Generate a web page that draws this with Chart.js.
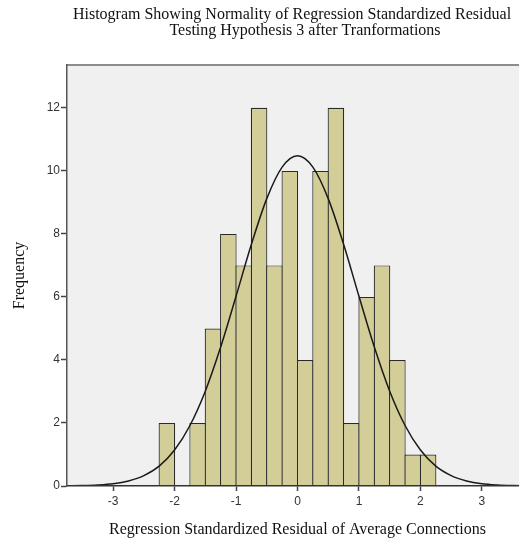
<!DOCTYPE html>
<html>
<head>
<meta charset="utf-8">
<script src="https://cdn.jsdelivr.net/npm/chart.js@4/dist/chart.umd.min.js"></script>
<style>
html,body{margin:0;padding:0;background:#fff;overflow:hidden;}
#wrap{position:absolute;left:0;top:0;width:528px;height:543px;}
</style>
</head>
<body>
<div id="wrap"><canvas id="c" width="528" height="543"></canvas></div>
<script>
// ---- data ----
const titleLines = ['Histogram Showing Normality of Regression Standardized Residual', 'Testing Hypothesis 3 after Tranformations'];
const xTitle = 'Regression Standardized Residual of Average Connections';
const yTitle = 'Frequency';
const binStarts = [-2.25, -2.0, -1.75, -1.5, -1.25, -1.0, -0.75, -0.5, -0.25, 0, 0.25, 0.5, 0.75, 1.0, 1.25, 1.5, 1.75, 2.0];
const binWidth = 0.25;
const counts = [2, 0, 2, 5, 8, 7, 12, 7, 10, 4, 10, 12, 2, 6, 7, 4, 1, 1];
const curveX = [-3.75, -3.5, -3.25, -3, -2.75, -2.5, -2.25, -2, -1.75, -1.5, -1.25, -1, -0.75, -0.5, -0.25, 0,
                0.25, 0.5, 0.75, 1, 1.25, 1.5, 1.75, 2, 2.25, 2.5, 2.75, 3, 3.25, 3.5, 3.75];
const curveY = [0.004, 0.012, 0.03, 0.07, 0.16, 0.33, 0.63, 1.14, 1.92, 3.01, 4.41, 6.02, 7.67, 9.12, 10.12, 10.48,
                10.12, 9.12, 7.67, 6.02, 4.41, 3.01, 1.92, 1.14, 0.63, 0.33, 0.16, 0.07, 0.03, 0.012, 0.004];
const xTicks = [-3, -2, -1, 0, 1, 2, 3];
const yTicks = [0, 2, 4, 6, 8, 10, 12];

const barData = binStarts.map((s, i) => ({x: s + binWidth / 2, y: counts[i]}));
const lineData = curveX.map((x, i) => ({x: x, y: curveY[i]}));

const decor = {
  id: 'decor',
  beforeDraw(chart) {
    const {ctx, chartArea: a} = chart;
    ctx.save();
    ctx.fillStyle = '#f0f0f0';
    ctx.fillRect(a.left, a.top, a.right - a.left, a.bottom - a.top);
    ctx.strokeStyle = '#8c8c8c';
    ctx.lineWidth = 2;
    ctx.beginPath();
    ctx.moveTo(a.left, a.top);
    ctx.lineTo(a.right, a.top);
    ctx.stroke();
    ctx.restore();
  },
  afterDraw(chart) {
    const {ctx} = chart;
    ctx.save();
    ctx.fillStyle = '#111';
    ctx.font = '16px "Liberation Serif", "Times New Roman", serif';
    ctx.textAlign = 'center';
    ctx.textBaseline = 'middle';
    ctx.fillText(titleLines[0], 292, 15);
    ctx.fillText(titleLines[1], 305, 31);
    ctx.restore();
  }
};

new Chart(document.getElementById('c'), {
  type: 'bar',
  data: {
    datasets: [
      {
        type: 'line',
        data: lineData,
        borderColor: '#1a1a1a',
        borderWidth: 1.5,
        pointRadius: 0,
        fill: false,
        cubicInterpolationMode: 'monotone',
        order: 0
      },
      {
        type: 'bar',
        data: barData,
        backgroundColor: '#d3ce97',
        borderColor: '#2a2a2a',
        borderWidth: {top: 1.2, left: 1.2, right: 1.2, bottom: 0},
        borderSkipped: 'start',
        barPercentage: 1.078,
        categoryPercentage: 1,
        order: 1
      }
    ]
  },
  options: {
    responsive: false,
    devicePixelRatio: 1,
    animation: false,
    layout: {padding: {top: 65, left: 0, right: 0, bottom: 0}},
    plugins: {legend: {display: false}, tooltip: {enabled: false}, title: {display: false}},
    scales: {
      x: {
        type: 'linear',
        min: -3.75,
        max: 3.75,
        offset: false,
        afterFit(s) { s.height = 57; },
        afterBuildTicks(s) { s.ticks = xTicks.map(v => ({value: v})); },
        grid: {offset: false, drawOnChartArea: false, drawTicks: true, tickLength: 5, tickColor: '#444', tickWidth: 1.5},
        border: {display: true, color: '#333', width: 1.5, z: 1},
        ticks: {color: '#333', font: {family: '"Liberation Sans", Arial, sans-serif', size: 12}, padding: 3, maxRotation: 0},
        title: {display: true, text: xTitle, color: '#111', font: {family: '"Liberation Serif", "Times New Roman", serif', size: 16}, padding: {top: 0, bottom: 4}}
      },
      y: {
        type: 'linear',
        min: 0,
        max: 13.36,
        afterFit(s) { s.width = 67; },
        afterBuildTicks(s) { s.ticks = yTicks.map(v => ({value: v})); },
        grid: {offset: false, drawOnChartArea: false, drawTicks: true, tickLength: 6, tickColor: '#444', tickWidth: 1.5},
        border: {display: true, color: '#555', width: 1.5, z: 1},
        ticks: {color: '#333', font: {family: '"Liberation Sans", Arial, sans-serif', size: 12}, padding: 1},
        title: {display: true, text: yTitle, color: '#111', font: {family: '"Liberation Serif", "Times New Roman", serif', size: 16}, padding: {top: 10, bottom: 0}}
      }
    }
  },
  plugins: [decor]
});
</script>
</body>
</html>
